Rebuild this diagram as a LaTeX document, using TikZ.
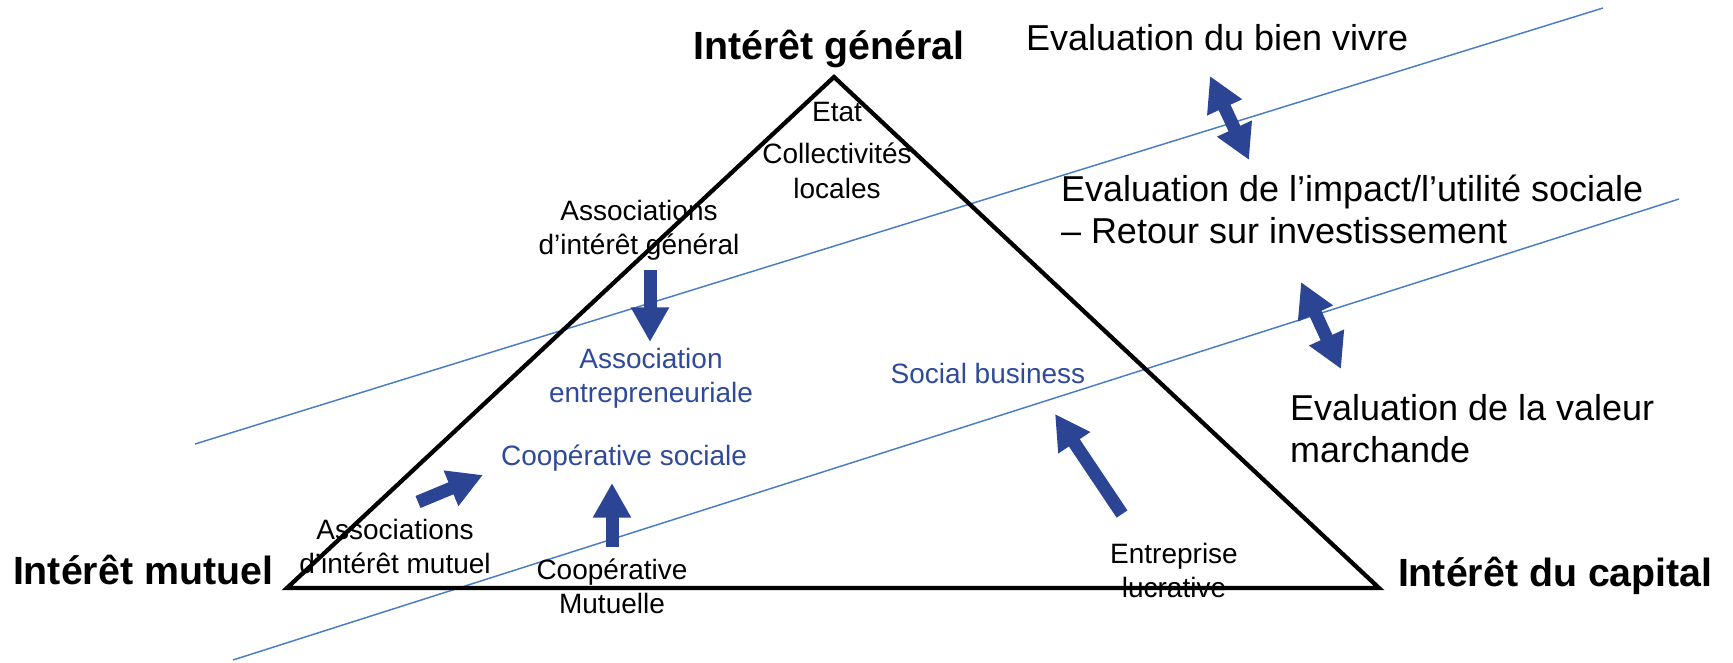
\documentclass[tikz,border=0pt]{standalone}
\usepackage{fontspec}
\setmainfont{Liberation Sans}
\usetikzlibrary{arrows.meta}
\definecolor{arrowblue}{HTML}{2B4494}
\definecolor{textblue}{HTML}{2F4A9A}
\definecolor{lineblue}{HTML}{4A7CC3}
\begin{document}
\begin{tikzpicture}[x=0.75pt,y=-0.75pt,
  every node/.style={inner sep=0pt, outer sep=0pt},
  bigl/.style={font=\fontsize{29.5}{35}\selectfont\bfseries},
  evl/.style={font=\fontsize{27}{31.5}\selectfont, align=left},
  sm/.style={font=\fontsize{21}{25.5}\selectfont, align=center, anchor=base},
  bl/.style={font=\fontsize{21}{25.5}\selectfont, align=center, anchor=base, text=textblue},
  tri/.style={draw=black, line width=3.2pt, line join=miter},
  band/.style={draw=lineblue, line width=1.1pt},
  blk/.style={draw=arrowblue, line width=9.75pt, -{Triangle[width=27pt,length=26pt]}},
  dblk/.style={draw=arrowblue, line width=9.75pt, {Triangle[width=27pt,length=26pt]}-{Triangle[width=27pt,length=26pt]}}
]
\useasboundingbox (0,0) rectangle (1733,663);

% band lines
\coordinate (u1) at (195,444);
\coordinate (u2) at (1603,8);
\coordinate (l1) at (233,660);
\coordinate (l2) at (1679,199);
\draw[band] (u1) -- (u2);
\draw[band] (l1) -- (l2);

% triangle
\coordinate (A) at (834,77);
\coordinate (B) at (287,588);
\coordinate (C) at (1379,588);
\draw[tri] (A) -- (B) -- (C) -- cycle;

% corner labels
\node[bigl, anchor=base] (ig) at (829,60) {Intérêt général};
\node[bigl, anchor=base west] (im) at (13,584) {Intérêt mutuel};
\node[bigl, anchor=base west] (ic) at (1398,586) {Intérêt du capital};

% evaluation labels (multi-line: base = last line)
\node[evl, anchor=base west] (e1) at (1026,51) {Evaluation du bien vivre};
\node[evl, anchor=base west] (e2) at (1061,243) {Evaluation de l’impact/l’utilité sociale\\– Retour sur investissement};
\node[evl, anchor=base west] (e3) at (1290,462) {Evaluation de la valeur\\marchande};

% black small labels
\node[sm] (etat) at (837,122) {Etat};
\node[sm] (coll) at (837,198) {Collectivités\\locales};
\node[sm] (aig) at (639,254) {Associations\\d’intérêt général};
\node[sm] (aim) at (395,573) {Associations\\d’intérêt mutuel};
\node[sm] (cm) at (612,613) {Coopérative\\Mutuelle};
\node[sm] (el) at (1174,597) {Entreprise\\lucrative};

% blue labels
\node[bl] (ae) at (651,402) {Association\\entrepreneuriale};
\node[bl] (cs) at (624,465) {Coopérative sociale};
\node[bl] (sb) at (988,383) {Social business};

% block arrows
\coordinate (a1s) at (650,270);
\coordinate (a1e) at (650,342);
\draw[blk] (a1s) -- (a1e);
\coordinate (a2s) at (612,547);
\coordinate (a2e) at (612,483);
\draw[blk] (a2s) -- (a2e);
\coordinate (a3s) at (418,502);
\coordinate (a3e) at (483,475);
\draw[blk] (a3s) -- (a3e);
\coordinate (a4s) at (1122,514);
\coordinate (a4e) at (1055,414);
\draw[blk] (a4s) -- (a4e);
\coordinate (d1s) at (1210,76);
\coordinate (d1e) at (1249,160);
\draw[dblk] (d1s) -- (d1e);
\coordinate (d2s) at (1301,282);
\coordinate (d2e) at (1341,369);
\draw[dblk] (d2s) -- (d2e);
\end{tikzpicture}
\end{document}
